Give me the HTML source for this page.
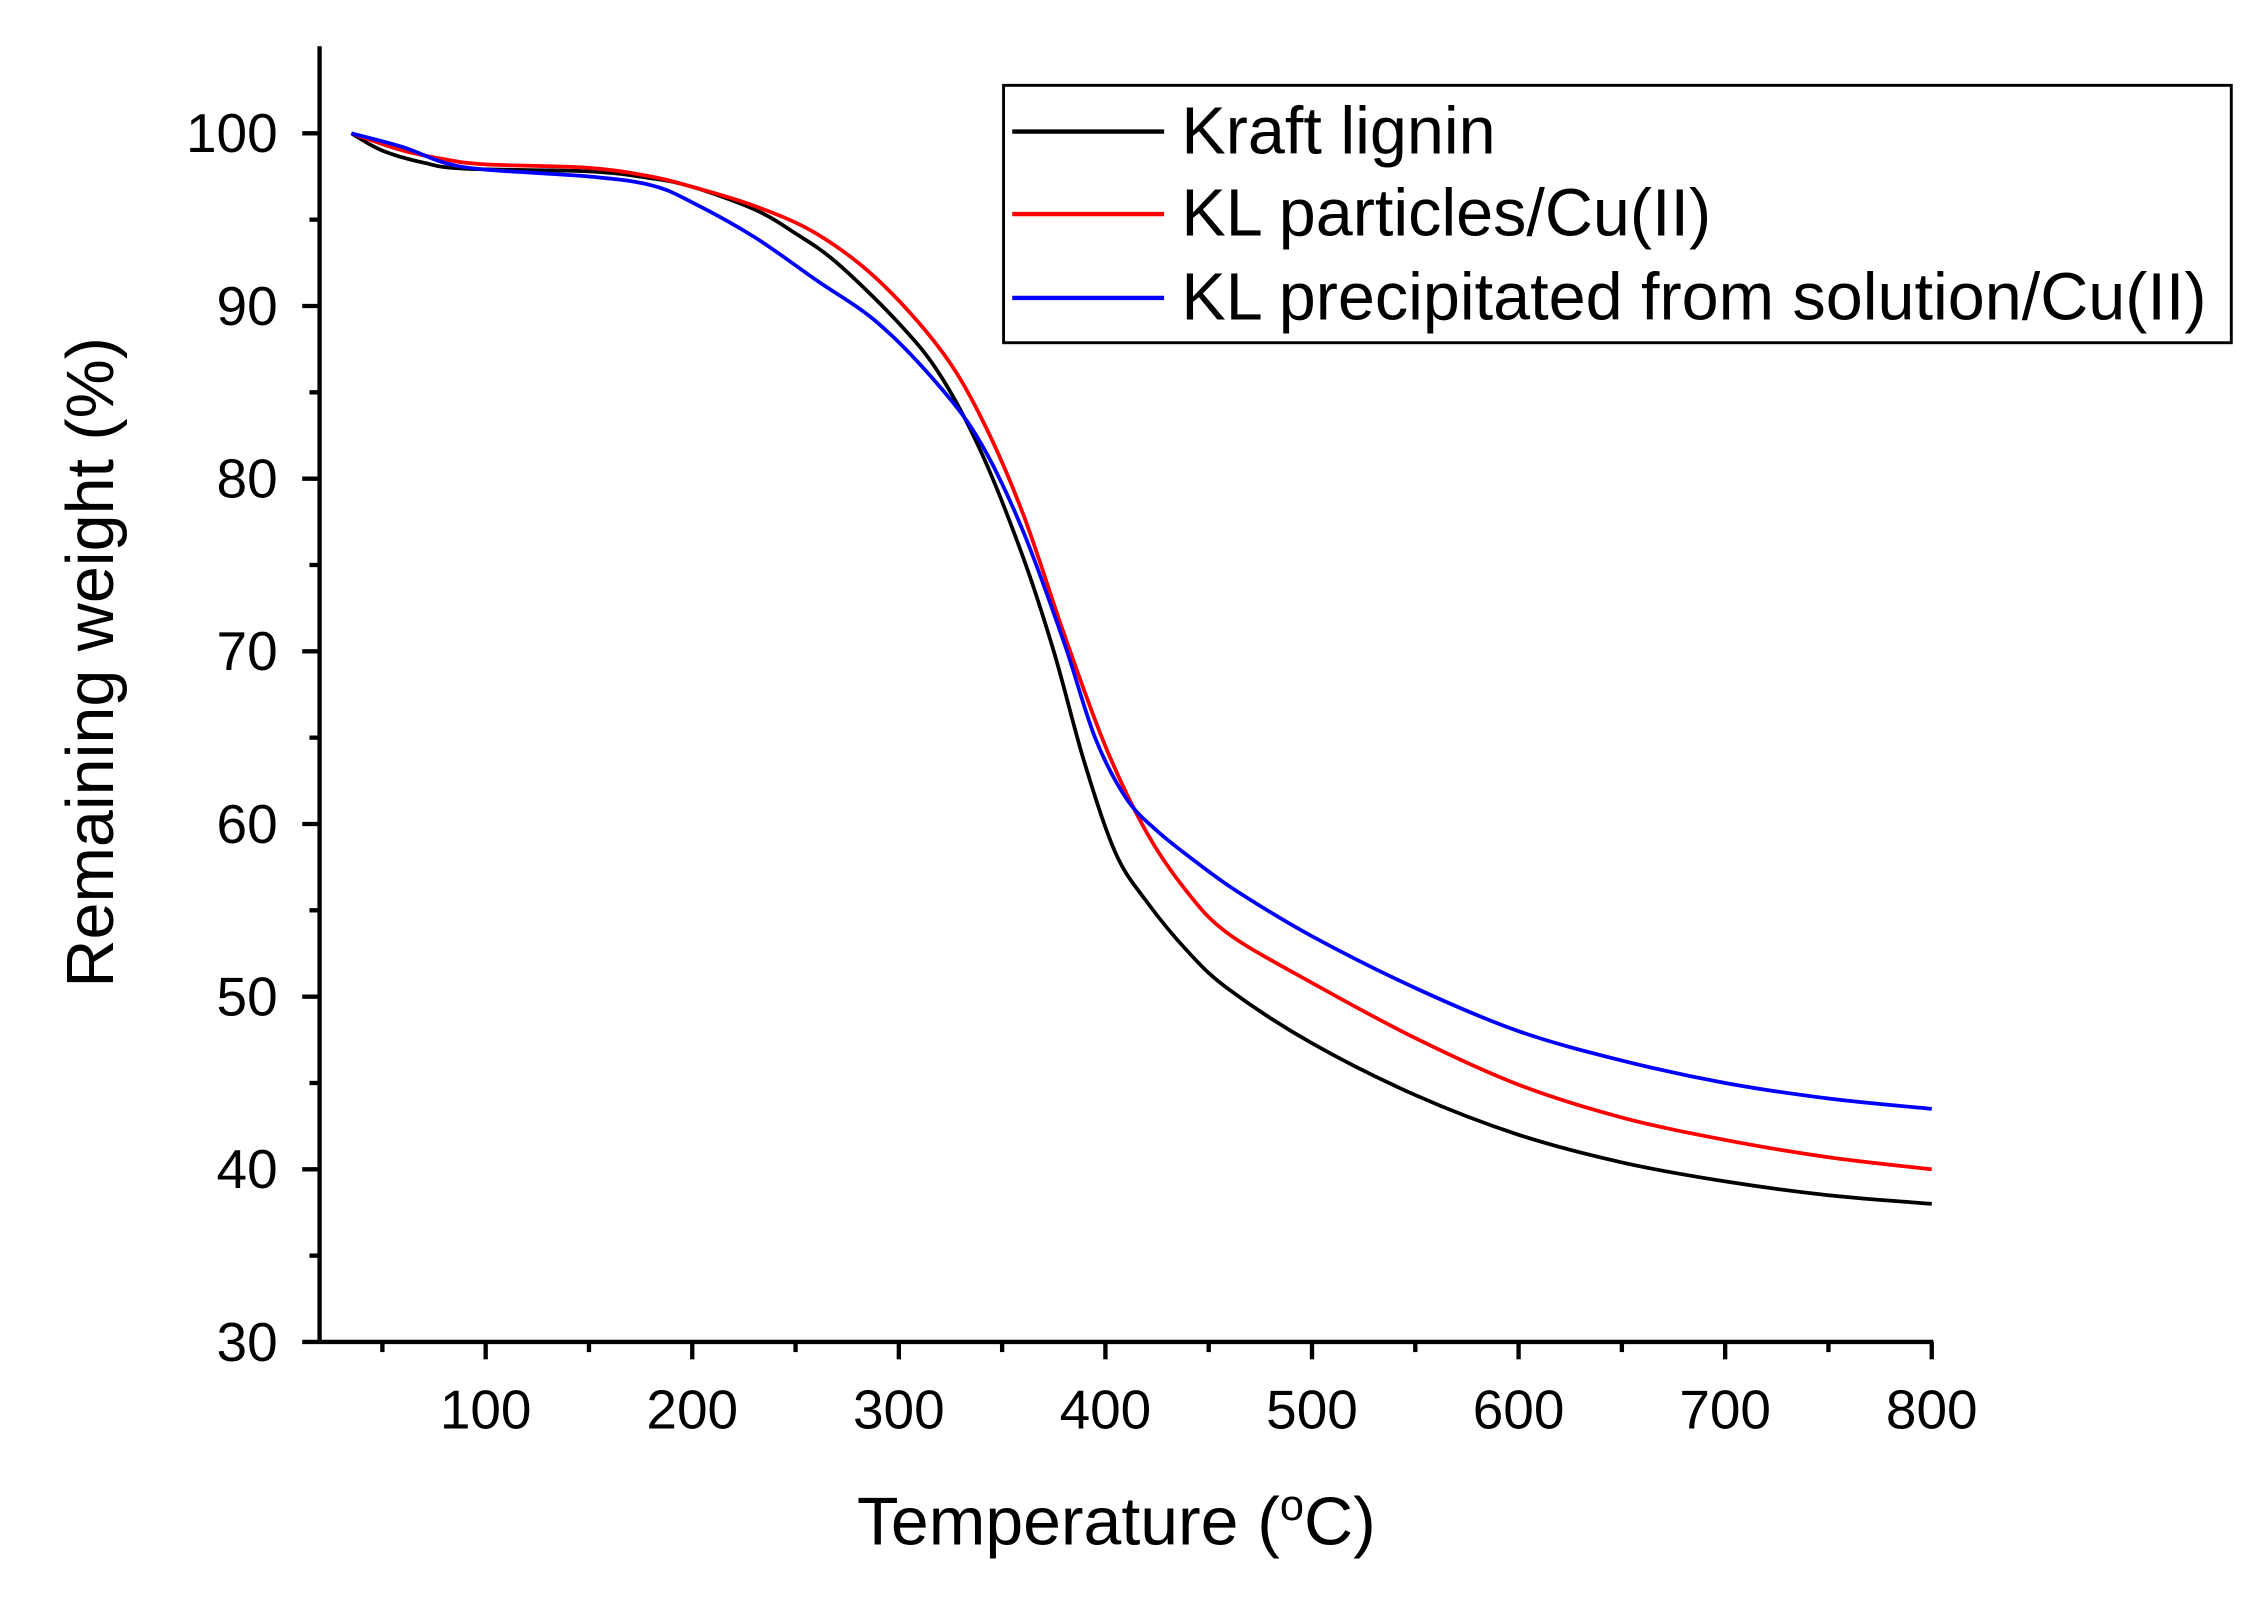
<!DOCTYPE html>
<html><head><meta charset="utf-8"><style>html,body{margin:0;padding:0;background:#fff}svg{display:block}text{font-family:"Liberation Sans",Arial,sans-serif;fill:#000}</style></head>
<body>
<svg id="s" width="2266" height="1603" viewBox="0 0 1567 1108.5" xmlns="http://www.w3.org/2000/svg">
<rect width="1567" height="1109" fill="#fff"/>
<g stroke="#000" stroke-width="3" fill="none" id="ax">
<line x1="221" y1="32" x2="221" y2="928"/>
<line x1="221" y1="928" x2="1337" y2="928"/>
</g>
<g id="ticks" stroke="#000" stroke-width="3"></g>
<g font-size="38" text-anchor="end" id="yl"></g>
<g font-size="38" text-anchor="middle" id="xl"></g>
<text x="772" y="1068" font-size="47" text-anchor="middle">Temperature (<tspan dy="-17" font-size="30">o</tspan><tspan dy="17">C)</tspan></text>
<text transform="translate(78,458) rotate(-90)" font-size="46" text-anchor="middle">Remaining weight (%)</text>
<g id="curves" fill="none" stroke-width="2.6" stroke-linejoin="round"></g>
<rect x="694" y="59" width="849" height="178" fill="none" stroke="#000" stroke-width="2"/>
<line x1="700" y1="91" x2="805" y2="91" stroke="#000" stroke-width="3"/>
<line x1="700" y1="148" x2="805" y2="148" stroke="#f00" stroke-width="3"/>
<line x1="700" y1="206" x2="805" y2="206" stroke="#00f" stroke-width="3"/>
<text x="817" y="106" font-size="46">Kraft lignin</text>
<text x="817" y="163" font-size="46">KL particles/Cu(II)</text>
<text x="817" y="221" font-size="46">KL precipitated from solution/Cu(II)</text>
</svg>
<script>
var NS="http://www.w3.org/2000/svg";
function X(t){return 193+t*1.42857}
function Y(w){return 928-(w-30)*11.94}
function el(p,tag,a,txt){var e=document.createElementNS(NS,tag);for(var k in a)e.setAttribute(k,a[k]);if(txt)e.textContent=txt;document.getElementById(p).appendChild(e);}
for(var w=30;w<=100;w+=5){var L=(w%10==0)?12:7;el("ticks","line",{x1:221-L,y1:Y(w),x2:221,y2:Y(w)});if(w%10==0)el("yl","text",{x:192,y:Y(w)+13},""+w);}
for(var t=50;t<=800;t+=50){var L=(t%100==0)?12:7;el("ticks","line",{x1:X(t),y1:928,x2:X(t),y2:928+L});if(t%100==0)el("xl","text",{x:X(t),y:988},""+t);}
var D={
"#000":[[35,100],[50,99],[70,98.3],[90,97.95],[150,97.8],[180,97.4],[200,96.9],[230,95.6],[250,94.2],[270,92.5],[300,89],[320,86],[340,81.5],[360,75.5],[375,70],[390,63.5],[405,58.3],[420,55.5],[440,52.6],[460,50.4],[500,47.3],[550,44.3],[600,42],[650,40.4],[700,39.3],[750,38.5],[800,38]],
"#f00":[[35,100],[60,99],[80,98.5],[100,98.2],[150,98],[180,97.5],[200,96.9],[230,95.8],[260,94.2],[290,91.5],[320,87.5],[340,83.5],[360,78],[380,71],[400,64.5],[420,59.5],[440,56],[460,53.6],[500,50.8],[550,47.6],[600,44.9],[650,43],[700,41.7],[750,40.7],[800,40]],
"#00f":[[35,100],[60,99.2],[80,98.3],[100,97.9],[150,97.5],[180,97],[200,96],[230,94],[260,91.5],[290,89],[320,85.3],[340,82],[360,77],[380,70.5],[395,65],[410,61.5],[425,59.6],[445,57.7],[465,56],[500,53.5],[550,50.5],[600,48],[650,46.3],[700,45],[750,44.1],[800,43.5]]};
for(var c in D){var p=D[c].map(function(q){return [X(q[0]),Y(q[1])]});var d="M"+p[0][0]+","+p[0][1];
for(var i=0;i<p.length-1;i++){var a=p[Math.max(i-1,0)],b=p[i],e=p[i+1],f=p[Math.min(i+2,p.length-1)];
d+=" C"+(b[0]+(e[0]-a[0])/6)+","+(b[1]+(e[1]-a[1])/6)+" "+(e[0]-(f[0]-b[0])/6)+","+(e[1]-(f[1]-b[1])/6)+" "+e[0]+","+e[1];}
el("curves","path",{d:d,stroke:c});}
</script>
</body></html>
